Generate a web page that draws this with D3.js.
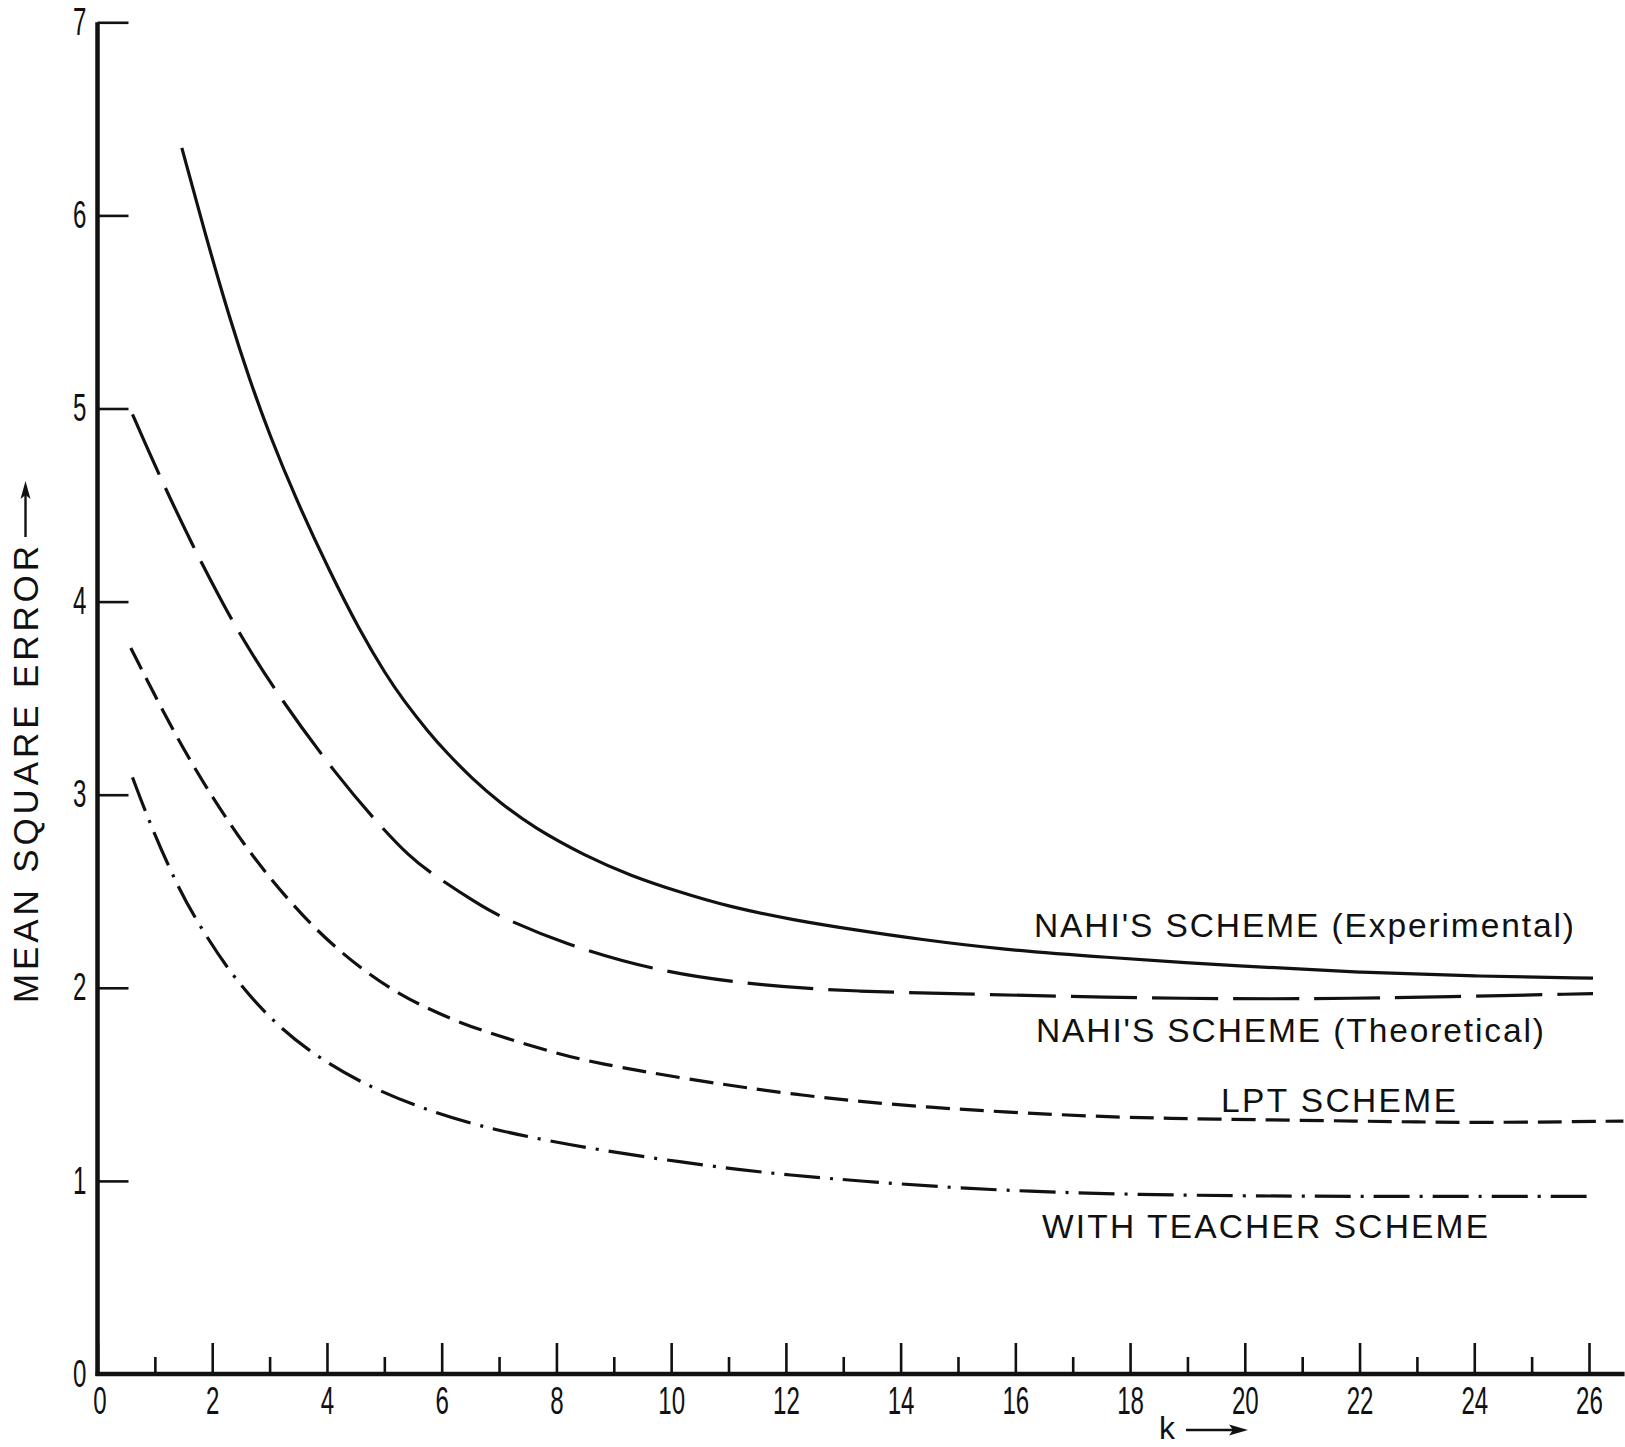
<!DOCTYPE html>
<html>
<head>
<meta charset="utf-8">
<script src="https://cdn.jsdelivr.net/npm/d3@7"></script>
<style>
  body { margin: 0; background: #fff; }
  text { font-family: "Liberation Sans", Arial, sans-serif; fill: #111; }
</style>
</head>
<body>
<div id="chart"></div>
<script>
// ---- data: [k, mean square error] ----
const nahiExperimental = [
  [1.47, 6.35], [1.89, 5.89], [2.30, 5.47], [2.65, 5.15], [2.99, 4.87], [3.46, 4.53],
  [4.04, 4.16], [4.57, 3.85], [5.03, 3.62], [5.33, 3.49], [5.78, 3.32], [6.08, 3.22],
  [6.54, 3.08], [7.01, 2.96], [7.6, 2.83], [8.52, 2.68], [9.3, 2.58], [10.1, 2.50],
  [11.0, 2.42], [12.15, 2.35], [13.2, 2.30], [14.35, 2.25], [15.72, 2.20], [17.46, 2.16],
  [20, 2.11], [22, 2.08], [24, 2.06], [26.07, 2.05]
];
const nahiTheoretical = [
  [0.61, 4.97], [1.05, 4.67], [1.69, 4.27], [2.15, 4.01], [2.50, 3.82], [3.18, 3.50],
  [4.17, 3.10], [4.92, 2.84], [5.44, 2.68], [5.78, 2.60], [6.65, 2.43], [7.01, 2.37],
  [8.10, 2.23], [9.80, 2.08], [11.61, 2.01], [13.28, 1.98], [14.95, 1.97], [17.46, 1.95],
  [20.58, 1.94], [23, 1.95], [26.07, 1.97]
];
const lptScheme = [
  [0.58, 3.76], [1.14, 3.43], [1.72, 3.12], [2.30, 2.85], [2.88, 2.61], [3.75, 2.31],
  [4.62, 2.09], [5.3, 1.96], [5.78, 1.89], [6.31, 1.82], [6.94, 1.755], [8.0, 1.66],
  [8.7, 1.61], [10.2, 1.53], [12.28, 1.44], [14.35, 1.38], [17.46, 1.33], [19.4, 1.32],
  [22, 1.31], [24, 1.30], [26.6, 1.31]
];
const teacherScheme = [
  [0.61, 3.09], [0.90, 2.86], [1.37, 2.54], [1.72, 2.35], [2.30, 2.08], [2.94, 1.86],
  [3.63, 1.68], [4.62, 1.50], [5.78, 1.36], [6.94, 1.26], [8.68, 1.16], [11.28, 1.05],
  [13.21, 1.00], [16.08, 0.94], [20, 0.92], [23, 0.92], [26.1, 0.92]
];

const seriesNames = [
  "NAHI'S SCHEME (Experimental)",
  "NAHI'S SCHEME (Theoretical)",
  "LPT SCHEME",
  "WITH TEACHER SCHEME"
];
const xMajorTicks = [0, 2, 4, 6, 8, 10, 12, 14, 16, 18, 20, 22, 24, 26];
const xMinorTicks = [1, 3, 5, 7, 9, 11, 13, 15, 17, 19, 21, 23, 25];
const yTicks = [0, 1, 2, 3, 4, 5, 6, 7];

// ---- setup ----
const width = 1625, height = 1447;
const x = d3.scaleLinear().domain([0, 26]).range([97.5, 1589]);
const y = d3.scaleLinear().domain([0, 7]).range([1374, 22.3]);
const xEnd = 26.62; // axis runs to the edge of the page

const svg = d3.select("#chart").append("svg")
    .attr("width", width)
    .attr("height", height);

// ---- axes ----
const yAxis = svg.append("g")
    .attr("transform", `translate(${x(0)},0)`)
    .call(d3.axisLeft(y).tickValues(yTicks).tickFormat(d3.format("d"))
        .tickSizeInner(-31).tickSizeOuter(0).tickPadding(11));
const xAxis = svg.append("g")
    .attr("transform", `translate(0,${y(0)})`)
    .call(d3.axisBottom(x).tickValues(xMajorTicks).tickFormat(d3.format("d"))
        .tickSizeInner(-31).tickSizeOuter(0).tickPadding(13));
const xMinor = svg.append("g")
    .attr("transform", `translate(0,${y(0)})`)
    .call(d3.axisBottom(x).tickValues(xMinorTicks).tickSizeInner(-17).tickSizeOuter(0).tickFormat(""));

[yAxis, xAxis, xMinor].forEach(g => {
    g.select(".domain").remove();
    g.selectAll(".tick line").attr("stroke", "#111").attr("stroke-width", 2.6);
    g.selectAll(".tick text")
        .attr("font-family", "Liberation Sans, Arial, sans-serif")
        .attr("font-size", 38)
        .attr("fill", "#111")
        .attr("textLength", d => String(d).length * 13.4)
        .attr("lengthAdjust", "spacingAndGlyphs");
});
xAxis.selectAll(".tick:first-child text").attr("dx", 2);

svg.append("line")
    .attr("x1", x(0)).attr("x2", x(0))
    .attr("y1", y(0) + 2).attr("y2", y(7))
    .attr("stroke", "#111").attr("stroke-width", 4.5);
svg.append("line")
    .attr("x1", x(0) - 2).attr("x2", x(xEnd))
    .attr("y1", y(0)).attr("y2", y(0))
    .attr("stroke", "#111").attr("stroke-width", 4.5);

// ---- curves ----
const line = d3.line()
    .x(d => x(d[0]))
    .y(d => y(d[1]))
    .curve(d3.curveBasis);

const curves = [
    { data: nahiExperimental, dash: null },
    { data: nahiTheoretical, dash: "66,15" },
    { data: lptScheme, dash: "24,10" },
    { data: teacherScheme, dash: "36,10,3,10" }
];

curves.forEach(c => {
    svg.append("path")
        .datum(c.data)
        .attr("d", line)
        .attr("fill", "none")
        .attr("stroke", "#111")
        .attr("stroke-width", 3.2)
        .attr("stroke-dasharray", c.dash);
});

// ---- curve labels ----
const labelPos = [
    { x: 1034, y: 937, w: 540 },
    { x: 1036, y: 1042, w: 508 },
    { x: 1221, y: 1112, w: 235 },
    { x: 1042, y: 1238, w: 446 }
];
seriesNames.forEach((name, i) => {
    svg.append("text")
        .attr("x", labelPos[i].x)
        .attr("y", labelPos[i].y)
        .attr("font-size", 33.5)
        .attr("textLength", labelPos[i].w)
        .attr("lengthAdjust", "spacing")
        .text(name);
});

// ---- axis titles ----
svg.append("text")
    .attr("transform", "translate(38,1003) rotate(-90)")
    .attr("font-size", 35)
    .attr("textLength", 457)
    .attr("lengthAdjust", "spacing")
    .text("MEAN SQUARE ERROR");
// arrow after the y title (pointing up)
svg.append("line")
    .attr("x1", 25.5).attr("x2", 25.5)
    .attr("y1", 537).attr("y2", 494)
    .attr("stroke", "#111").attr("stroke-width", 2.4);
svg.append("path")
    .attr("d", "M25.5,481 L20.5,499 L25.5,495 L30.5,499 Z")
    .attr("fill", "#111");

svg.append("text")
    .attr("x", 1159)
    .attr("y", 1439)
    .attr("font-size", 32)
    .text("k");
svg.append("line")
    .attr("x1", 1186).attr("x2", 1236)
    .attr("y1", 1430).attr("y2", 1430)
    .attr("stroke", "#111").attr("stroke-width", 2.4);
svg.append("path")
    .attr("d", "M1248,1430 L1229,1424.5 L1233,1430 L1229,1435.5 Z")
    .attr("fill", "#111");
</script>
</body>
</html>
